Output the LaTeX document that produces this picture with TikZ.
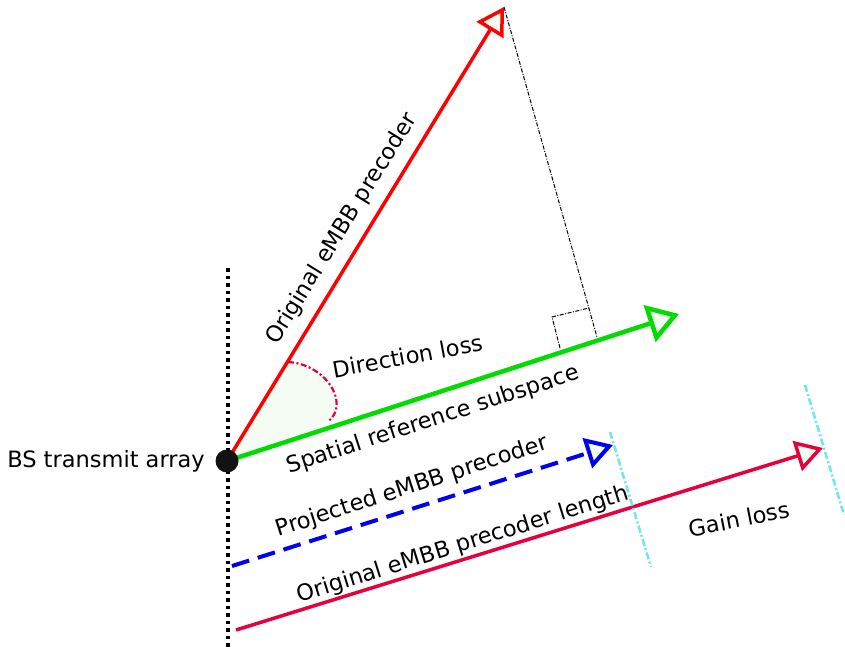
\documentclass[tikz,border=0pt]{standalone}
\usepackage{fontspec}
\setmainfont{DejaVu Sans}
\usetikzlibrary{arrows.meta,calc}
\definecolor{honey}{RGB}{240,255,240}
\definecolor{arcfill}{RGB}{244,252,244}
\definecolor{myred}{RGB}{255,0,0}
\definecolor{mygreen}{RGB}{0,220,0}
\definecolor{myblue}{RGB}{0,0,240}
\definecolor{mycrimson}{RGB}{232,0,60}
\definecolor{mycyan}{RGB}{110,232,232}
\tikzset{
  lbl/.style={font=\fontsize{22.5}{25}\selectfont, inner sep=0pt},
  opentri/.style={-{Triangle[open,length=27pt,width=31pt,fill=honey]}},
  bigtri/.style={-{Triangle[open,length=31pt,width=38pt,fill=honey]}},
  guide/.style={mycyan, line width=2.6pt, dash pattern=on 7pt off 2.5pt on 2pt off 2.5pt},
  thindd/.style={black, line width=1pt, dash pattern=on 4pt off 1.5pt on 1pt off 1.5pt},
}
\begin{document}
\begin{tikzpicture}[x=1pt,y=-1pt]
\useasboundingbox (0,0) rectangle (845,647);
% coordinates
\coordinate (O) at (227,461);
\coordinate (Rt) at (504,7);
\coordinate (Gt) at (679,314);
\coordinate (F) at (597,337);
\coordinate (Bs) at (232,566);
\coordinate (Bt) at (613,445);
\coordinate (Cs) at (236,630);
\coordinate (Ct) at (823,448);
\coordinate (Vt) at (228,268);
\coordinate (Vb) at (228,647);
\coordinate (A1) at (288,362);
\coordinate (A2) at (329,421);
\coordinate (Q1) at (560,348);
\coordinate (Q2) at (552,317);
\coordinate (Q3) at (589,308);
\coordinate (K1t) at (610,432);
\coordinate (K1b) at (651,567);
\coordinate (K2t) at (805,385);
\coordinate (K2b) at (844,515);

% vertical dotted line
\draw[black, line width=3.5pt, dash pattern=on 3.5pt off 4pt] (Vt) -- (Vb);

% direction loss arc
\fill[arcfill] (O) -- (A1) .. controls (325,364) and (350,402) .. (A2) -- cycle;
\draw[mycrimson, line width=2.2pt, dash pattern=on 6pt off 2.5pt on 2pt off 2.5pt] (A1) .. controls (325,364) and (350,402) .. (A2);

% projection line and right angle
\draw[thindd] (Rt) -- (F);
\draw[thindd] (Q1) -- (Q2) -- (Q3);

% vectors
\draw[myred, line width=3.5pt, opentri] (O) -- (Rt);
\draw[mygreen, line width=4.5pt, bigtri] (O) -- (Gt);
\draw[myblue, line width=4pt, dash pattern=on 18pt off 9pt, opentri] (Bs) -- (Bt);
\draw[mycrimson, line width=3.5pt, opentri] (Cs) -- (Ct);

% guides
\draw[guide] (K1t) -- (K1b);
\draw[guide] (K2t) -- (K2b);

% BS dot
\fill[black!93] (O) circle (11.5);

% labels
\node[lbl] (lbs) at (106,461) {BS transmit array};
\node[lbl, rotate=58.3] (lred) at (342,229) {Original eMBB precoder};
\node[lbl, rotate=10.5] (ldir) at (408,356) {Direction loss};
\node[lbl, rotate=18] (lgreen) at (433,420) {Spatial reference subspace};
\node[lbl, rotate=18] (lblue) at (412,487) {Projected eMBB precoder};
\node[lbl, rotate=17.3] (lcr) at (463,545) {Original eMBB precoder length};
\node[lbl, rotate=11] (lgain) at (739,519) {Gain loss};
\end{tikzpicture}
\end{document}
